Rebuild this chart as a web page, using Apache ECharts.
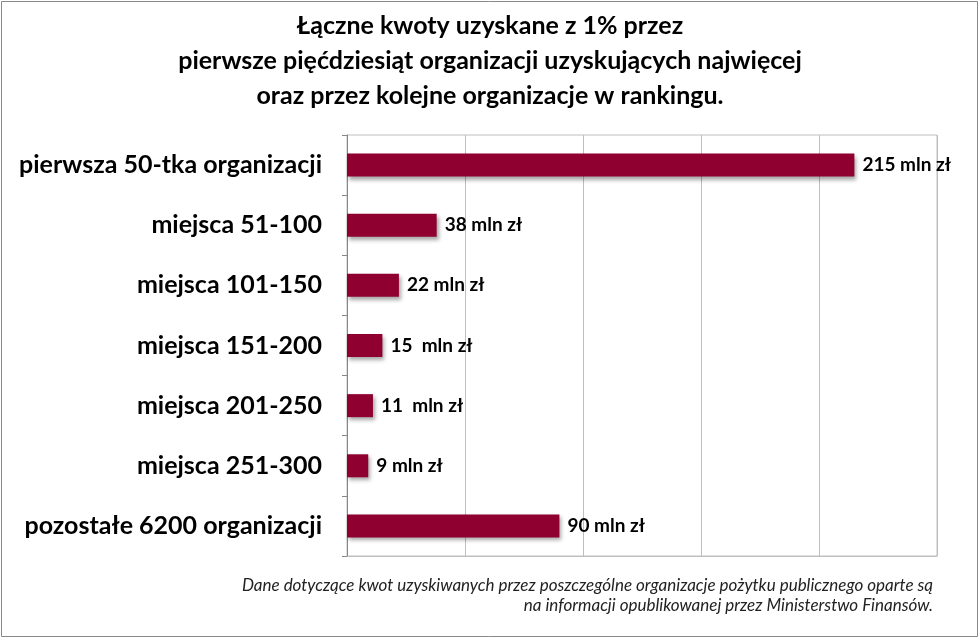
<!DOCTYPE html>
<html>
<head>
<meta charset="utf-8">
<script src="https://cdn.jsdelivr.net/npm/echarts@6/dist/echarts.min.js"></script>
<style>
  body { margin: 0; background: #fff; }
  #chart1 { width: 980px; height: 641px; }
</style>
</head>
<body>
<div id="chart1"></div>
<script>
// kategorie i wartosci (mln zł)
var categories = ['pierwsza 50-tka organizacji', 'miejsca 51-100', 'miejsca 101-150',
    'miejsca 151-200', 'miejsca 201-250', 'miejsca 251-300', 'pozostałe 6200 organizacji'];
var values = [215, 38, 22, 15, 11, 9, 90];
var valueLabels = ['215 mln zł', '38 mln zł', '22 mln zł', '15  mln zł', '11  mln zł', '9 mln zł', '90 mln zł'];
var titleLines = ['Łączne kwoty uzyskane z 1% przez',
    'pierwsze pięćdziesiąt organizacji uzyskujących najwięcej',
    'oraz przez kolejne organizacje w rankingu.'];
var noteLines = ['Dane dotyczące kwot uzyskiwanych przez poszczególne organizacje pożytku publicznego oparte są',
    'na informacji opublikowanej przez Ministerstwo Finansów.'];

var fontMain = 'Lato, "Open Sans", sans-serif';

var myChart = echarts.init(document.getElementById('chart1'));
var option = {
    backgroundColor: '#fff',
    animation: false,
    title: {
        text: titleLines.join('\n'),
        left: 'center',
        top: 3,
        textStyle: {
            fontFamily: fontMain,
            fontSize: 25,
            fontWeight: 'bold',
            color: '#000',
            lineHeight: 35
        }
    },
    grid: {
        left: 347,
        right: 43,
        top: 135,
        bottom: 85,
        show: true,
        borderColor: '#bfbfbf',
        borderWidth: 1
    },
    xAxis: {
        type: 'value',
        min: 0,
        max: 250,
        interval: 50,
        axisLabel: { show: false },
        axisTick: { show: false },
        axisLine: { show: true, lineStyle: { color: '#bfbfbf' } },
        splitLine: { show: true, lineStyle: { color: '#bfbfbf' } }
    },
    yAxis: {
        type: 'category',
        inverse: true,
        data: categories,
        axisLine: { show: true, lineStyle: { color: '#888' } },
        axisTick: { show: true, inside: false, length: 5, lineStyle: { color: '#888' } },
        axisLabel: {
            margin: 25,
            fontFamily: fontMain,
            fontSize: 25,
            fontWeight: 'bold',
            color: '#000'
        }
    },
    series: [{
        type: 'bar',
        data: values,
        barWidth: 23,
        itemStyle: {
            color: '#8f0030',
            shadowColor: 'rgba(0,0,0,0.35)',
            shadowBlur: 4,
            shadowOffsetX: 2,
            shadowOffsetY: 3
        },
        label: {
            show: true,
            position: 'right',
            distance: 8,
            fontFamily: fontMain,
            fontSize: 19,
            fontWeight: 'bold',
            color: '#000',
            formatter: function (p) { return valueLabels[p.dataIndex]; }
        }
    }],
    graphic: [
        {
            type: 'rect',
            shape: { x: 1.5, y: 1.5, width: 976, height: 635 },
            style: { fill: 'none', stroke: '#888', lineWidth: 1 },
            silent: true
        },
        {
            type: 'text',
            right: 47,
            top: 577,
            style: {
                text: noteLines[0],
                fontFamily: fontMain,
                fontSize: 17,
                fontStyle: 'italic',
                fill: '#222'
            }
        },
        {
            type: 'text',
            right: 47,
            top: 597,
            style: {
                text: noteLines[1],
                fontFamily: fontMain,
                fontSize: 17,
                fontStyle: 'italic',
                fill: '#222'
            }
        }
    ]
};
myChart.setOption(option);
window.addEventListener('resize', myChart.resize);
</script>
</body>
</html>
